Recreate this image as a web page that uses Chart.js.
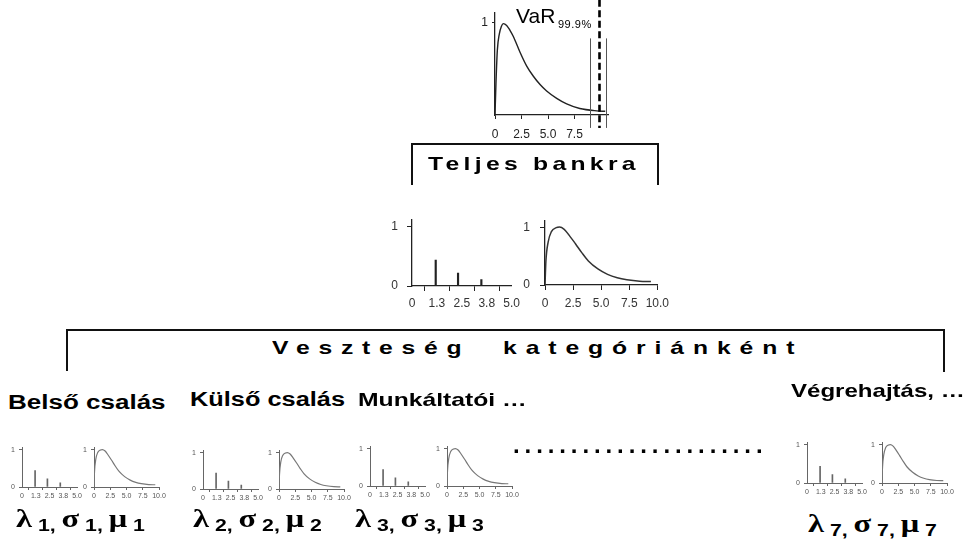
<!DOCTYPE html>
<html>
<head>
<meta charset="utf-8">
<script src="https://cdn.jsdelivr.net/npm/chart.js@4.4.1/dist/chart.umd.min.js"></script>
<style>
body { margin: 0; background: #fff; }
#wrap { position: relative; width: 972px; height: 550px; overflow: hidden; background: #fff; font-family: "Liberation Sans", Arial, sans-serif; }
canvas { position: absolute; }
.t { position: absolute; white-space: nowrap; line-height: 1; color: #000; transform-origin: 0 0; }
.ln { position: absolute; background: #111; }
.gr { font-family: "Liberation Serif", "Times New Roman", serif; font-weight: bold; font-size: 26px; }
.sb { font-family: "Liberation Sans", Arial, sans-serif; font-weight: bold; font-size: 17px; position: relative; top: 4px; }
</style>
</head>
<body>
<div id="wrap"></div>
<script>
// aggregated loss distribution (top)
const topLossX = [0, 0.09, 0.22, 0.41, 0.6, 0.79, 1.1, 1.4, 1.73, 2.36, 2.99, 3.62, 4.25, 4.87, 5.82, 6.76, 8.0, 9.6, 10.4];
const topLossY = [0, 0.34, 0.70, 0.88, 0.96, 0.99, 0.97, 0.92, 0.85, 0.68, 0.53, 0.42, 0.33, 0.26, 0.18, 0.12, 0.07, 0.045, 0.04];
const topTicks = [0, 2.5, 5, 7.5];
const topTickLabels = ['0', '2.5', '5.0', '7.5'];
// VaR markers: solid, dashed (VaR 99.9%), solid
const varLineX = [8.96, 9.8, 10.47];
const varLineTop = [0.83, 1.25, 0.83];
const varLineBottom = -0.14;

// frequency distribution
const freqX = [1.19, 2.31, 3.48];
const freqY = [0.44, 0.22, 0.11];
const freqTicks = [0, 1.25, 2.5, 3.75, 5];
const freqTickLabels = ['0', '1.3', '2.5', '3.8', '5.0'];

// severity distribution
const sevX = [0, 0.08, 0.28, 0.57, 1.0, 1.29, 1.71, 2.14, 2.71, 3.29, 3.86, 4.71, 5.57, 6.43, 7.29, 8.43, 9.43];
const sevY = [0, 0.41, 0.75, 0.93, 1.0, 1.01, 0.97, 0.87, 0.72, 0.56, 0.42, 0.28, 0.185, 0.125, 0.09, 0.065, 0.06];
const sevTicks = [0, 2.5, 5, 7.5, 10];
const sevTickLabels = ['0', '2.5', '5.0', '7.5', '10.0'];

const yTicks01 = [0, 1];
const yLabels01 = ['0', '1'];

const categories = ['Belső csalás', 'Külső csalás', 'Munkáltatói …', 'Végrehajtás, …'];
const categoryIndex = [1, 2, 3, 7];

const wrap = document.getElementById('wrap');
const FONT = '"Liberation Sans", Arial, sans-serif';

function addChart(s) {
    const unit = s.zeroY - s.oneY;
    const yMax = (s.zeroY - s.topY) / unit;
    const cv = document.createElement('canvas');
    cv.width = s.yW + s.plotW + s.padR;
    cv.height = s.padT + (s.zeroY - s.topY) + s.xH;
    cv.style.left = (s.axisX - s.yW) + 'px';
    cv.style.top = (s.topY - s.padT) + 'px';
    wrap.appendChild(cv);

    const axis = (ticks, labels, pad, isX) => ({
        type: 'linear',
        min: 0,
        max: isX ? s.xMax : yMax,
        offset: false,
        afterBuildTicks: sc => { sc.ticks = ticks.map(v => ({ value: v })); },
        afterFit: sc => { if (isX) sc.height = s.xH; else sc.width = s.yW; },
        grid: { drawOnChartArea: false, drawTicks: true, tickLength: isX ? s.xTickLen : s.yTickLen, color: s.axisColor, lineWidth: 1 },
        border: { display: true, color: s.axisColor, width: s.axisW },
        ticks: {
            autoSkip: false, maxRotation: 0, padding: pad, color: s.textColor,
            font: { size: s.fs, family: FONT },
            callback: (v, i) => labels[i]
        }
    });

    new Chart(cv, {
        type: s.type,
        data: { datasets: s.datasets },
        options: {
            responsive: false,
            animation: false,
            devicePixelRatio: 1,
            layout: { padding: { top: s.padT, right: s.padR, left: 0, bottom: 0 } },
            plugins: { legend: { display: false }, tooltip: { enabled: false } },
            scales: {
                x: axis(s.xTicks, s.xLabels, s.xPad, true),
                y: axis(s.yTicks, s.yLabels, s.yPad, false)
            }
        },
        plugins: s.plugins || []
    });
}

function curveData(xs, ys) {
    return xs.map((x, i) => ({ x: x, y: ys[i] }));
}

const varPlugin = {
    id: 'varLines',
    afterDatasetsDraw(chart) {
        const { ctx, scales: { x, y } } = chart;
        ctx.save();
        varLineX.forEach((v, i) => {
            const px = Math.round(x.getPixelForValue(v)) + 0.5;
            ctx.beginPath();
            if (i === 1) {
                ctx.strokeStyle = '#000';
                ctx.lineWidth = 2.6;
                ctx.setLineDash([7, 3.5]);
            } else {
                ctx.strokeStyle = '#555';
                ctx.lineWidth = 1;
                ctx.setLineDash([]);
            }
            ctx.moveTo(px, y.getPixelForValue(varLineTop[i]));
            ctx.lineTo(px, y.getPixelForValue(varLineBottom));
            ctx.stroke();
        });
        ctx.restore();
    }
};

function lineSet(color, width) {
    return {
        type: 'line',
        data: curveData(sevX, sevY),
        borderColor: color, borderWidth: width,
        pointRadius: 0, fill: false, cubicInterpolationMode: 'monotone'
    };
}

function barSet(color, thick) {
    return {
        type: 'bar',
        data: curveData(freqX, freqY),
        backgroundColor: color, barThickness: thick
    };
}

// top: whole bank
addChart({
    type: 'line', axisX: 495, zeroY: 115, oneY: 22.7, topY: 13, plotW: 113, xMax: 10.66,
    yW: 16, xH: 30, padT: 13, padR: 8,
    xTicks: topTicks, xLabels: topTickLabels, yTicks: [1], yLabels: ['1'],
    xTickLen: 4, yTickLen: 3, xPad: 8, yPad: 4, fs: 12,
    axisColor: '#222', axisW: 1.3, textColor: '#222',
    datasets: [{
        data: curveData(topLossX, topLossY),
        borderColor: '#222', borderWidth: 1.4, pointRadius: 0, fill: false,
        cubicInterpolationMode: 'monotone'
    }],
    plugins: [varPlugin]
});

// middle: frequency + severity
addChart({
    type: 'bar', axisX: 412, zeroY: 286, oneY: 216, topY: 207, plotW: 101, xMax: 5,
    yW: 26, xH: 26, padT: 4, padR: 12,
    xTicks: freqTicks, xLabels: freqTickLabels, yTicks: yTicks01, yLabels: yLabels01,
    xTickLen: 5, yTickLen: 5, xPad: 5, yPad: 9, fs: 12,
    axisColor: '#222', axisW: 1.3, textColor: '#333',
    datasets: [barSet('#222', 1.5)]
});
addChart({
    type: 'line', axisX: 545, zeroY: 285, oneY: 216, topY: 207, plotW: 116.7, xMax: 10,
    yW: 26, xH: 27, padT: 4, padR: 14,
    xTicks: sevTicks, xLabels: sevTickLabels, yTicks: yTicks01, yLabels: yLabels01,
    xTickLen: 5, yTickLen: 5, xPad: 6, yPad: 10, fs: 12,
    axisColor: '#222', axisW: 1.3, textColor: '#333',
    datasets: [lineSet('#333', 1.5)]
});

// bottom: per category pairs
const pairs = [
    { fx: 21.7, sx: 94, one: 446, zero: 487 },
    { fx: 202.7, sx: 278.7, one: 449, zero: 489 },
    { fx: 370, sx: 447.3, one: 445, zero: 486 },
    { fx: 806.7, sx: 881.7, one: 440.7, zero: 482.7 }
];
pairs.forEach(p => {
    const common = {
        zeroY: p.zero, oneY: p.one, topY: p.one - 3,
        yW: 14, xH: 14, padT: 4, padR: 9,
        yTicks: yTicks01, yLabels: yLabels01,
        xTickLen: 3, yTickLen: 3, xPad: 2, yPad: 4, fs: 7,
        axisColor: '#666', axisW: 1, textColor: '#555'
    };
    addChart(Object.assign({}, common, {
        type: 'bar', axisX: p.fx, plotW: 55, xMax: 5,
        xTicks: freqTicks, xLabels: freqTickLabels,
        datasets: [barSet('#666', 1)]
    }));
    addChart(Object.assign({}, common, {
        type: 'line', axisX: p.sx, plotW: 65, xMax: 10,
        xTicks: sevTicks, xLabels: sevTickLabels,
        datasets: [lineSet('#777', 1.2)]
    }));
});

// text and brackets
function text(html, left, top, css) {
    const d = document.createElement('div');
    d.className = 't';
    d.innerHTML = html;
    d.style.left = left + 'px';
    d.style.top = top + 'px';
    Object.assign(d.style, css || {});
    wrap.appendChild(d);
    return d;
}
function line(left, top, w, h) {
    const d = document.createElement('div');
    d.className = 'ln';
    Object.assign(d.style, { left: left + 'px', top: top + 'px', width: w + 'px', height: h + 'px' });
    wrap.appendChild(d);
}

text('VaR', 516, 5, { fontSize: '21px' });
text('99.9%', 558, 18.5, { fontSize: '11px', letterSpacing: '0.5px' });

line(411, 143, 248, 2);
line(411, 143, 2, 42);
line(657, 143, 2, 42);
text('Teljes bankra', 428, 154.2, { fontSize: '19px', fontWeight: 'bold', letterSpacing: '3.3px', transform: 'scaleX(1.3)' });

line(66, 329, 879, 2);
line(66, 329, 2, 42);
line(943, 329, 2, 43);
text('Veszteség', 272, 337.5, { fontSize: '19px', fontWeight: 'bold', letterSpacing: '6.75px', transform: 'scaleX(1.3)' });
text('kategóriánként', 503, 337.5, { fontSize: '19px', fontWeight: 'bold', letterSpacing: '6.85px', transform: 'scaleX(1.3)' });

const catPos = [[8, 392, 20], [190, 390, 19.5], [358, 390, 19], [791, 382, 18.5]];
categories.forEach((c, i) => {
    text(c, catPos[i][0], catPos[i][1], { fontSize: catPos[i][2] + 'px', fontWeight: 'bold', transform: 'scaleX(1.3)' });
});

text('......................', 513, 433, { fontSize: '24px', fontWeight: 'bold', letterSpacing: '4.9px' });

const paramPos = [[16, 506], [193, 506], [355, 506], [808, 511]];
categoryIndex.forEach((k, i) => {
    const html = '<span class="gr">λ</span><span class="sb"> ' + k + ', </span>' +
        '<span class="gr">σ</span><span class="sb"> ' + k + ', </span>' +
        '<span class="gr">μ</span><span class="sb"> ' + k + '</span>';
    text(html, paramPos[i][0], paramPos[i][1], { transform: 'scaleX(1.25)' });
});
</script>
</body>
</html>
